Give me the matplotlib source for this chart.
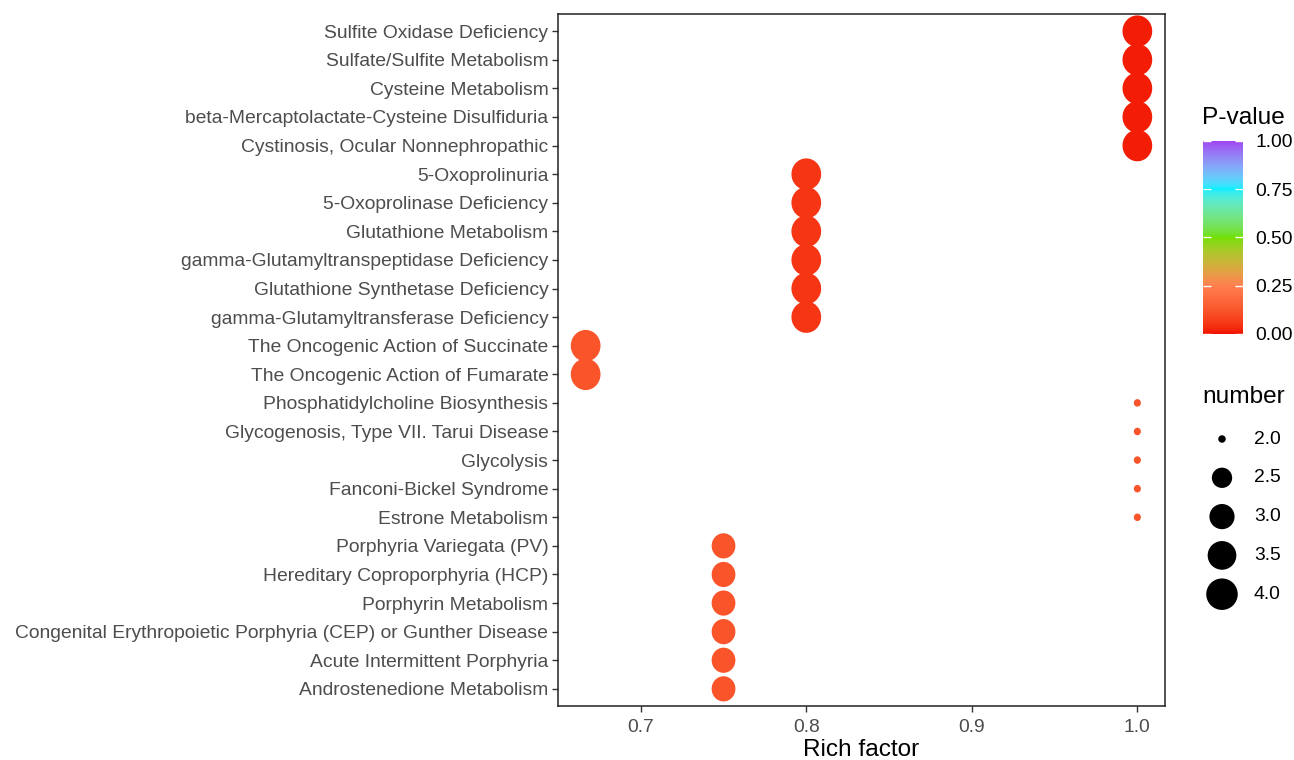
import numpy as np
import matplotlib
matplotlib.use("Agg")
import matplotlib.pyplot as plt
from matplotlib.colors import ListedColormap, to_rgb
from matplotlib.path import Path

plt.rcParams["font.family"] = ["Liberation Sans", "DejaVu Sans"]

# ---- data -------------------------------------------------------------
pathways = [
    "Sulfite Oxidase Deficiency",
    "Sulfate/Sulfite Metabolism",
    "Cysteine Metabolism",
    "beta-Mercaptolactate-Cysteine Disulfiduria",
    "Cystinosis, Ocular Nonnephropathic",
    "5-Oxoprolinuria",
    "5-Oxoprolinase Deficiency",
    "Glutathione Metabolism",
    "gamma-Glutamyltranspeptidase Deficiency",
    "Glutathione Synthetase Deficiency",
    "gamma-Glutamyltransferase Deficiency",
    "The Oncogenic Action of Succinate",
    "The Oncogenic Action of Fumarate",
    "Phosphatidylcholine Biosynthesis",
    "Glycogenosis, Type VII. Tarui Disease",
    "Glycolysis",
    "Fanconi-Bickel Syndrome",
    "Estrone Metabolism",
    "Porphyria Variegata (PV)",
    "Hereditary Coproporphyria (HCP)",
    "Porphyrin Metabolism",
    "Congenital Erythropoietic Porphyria (CEP) or Gunther Disease",
    "Acute Intermittent Porphyria",
    "Androstenedione Metabolism",
]
rich_factor = [1.0, 1.0, 1.0, 1.0, 1.0,
               0.8, 0.8, 0.8, 0.8, 0.8, 0.8,
               0.6667, 0.6667,
               1.0, 1.0, 1.0, 1.0, 1.0,
               0.75, 0.75, 0.75, 0.75, 0.75, 0.75]
number = [4, 4, 4, 4, 4,
          4, 4, 4, 4, 4, 4,
          4, 4,
          2, 2, 2, 2, 2,
          3, 3, 3, 3, 3, 3]
p_value = [0.015, 0.015, 0.015, 0.015, 0.015,
           0.05, 0.05, 0.05, 0.05, 0.05, 0.05,
           0.12, 0.12,
           0.12, 0.12, 0.12, 0.12, 0.12,
           0.12, 0.12, 0.12, 0.12, 0.12, 0.12]

x_ticks = [0.7, 0.8, 0.9, 1.0]
p_ticks = [0.0, 0.25, 0.5, 0.75, 1.0]
size_breaks = [2.0, 2.5, 3.0, 3.5, 4.0]
gradient_colours = ["#F21000", "#FF8050", "#72E000", "#00EEFF", "#A040F0"]


# ---- colour scale interpolated in CIE Lab ----------------------------
def _srgb_to_lab(rgb):
    rgb = np.asarray(rgb, float)
    lin = np.where(rgb <= 0.04045, rgb / 12.92, ((rgb + 0.055) / 1.055) ** 2.4)
    m = np.array([[0.4124, 0.3576, 0.1805],
                  [0.2126, 0.7152, 0.0722],
                  [0.0193, 0.1192, 0.9505]])
    xyz = m @ lin / np.array([0.95047, 1.0, 1.08883])
    f = np.where(xyz > 0.008856, np.cbrt(xyz), 7.787 * xyz + 16 / 116)
    return np.array([116 * f[1] - 16, 500 * (f[0] - f[1]), 200 * (f[1] - f[2])])


def _lab_to_srgb(lab):
    L, a, b = lab
    fy = (L + 16) / 116
    fx = fy + a / 500
    fz = fy - b / 200
    f = np.array([fx, fy, fz])
    xyz = np.where(f ** 3 > 0.008856, f ** 3, (f - 16 / 116) / 7.787)
    xyz = xyz * np.array([0.95047, 1.0, 1.08883])
    m = np.array([[3.2406, -1.5372, -0.4986],
                  [-0.9689, 1.8758, 0.0415],
                  [0.0557, -0.2040, 1.0570]])
    lin = m @ xyz
    lin = np.clip(lin, 0, 1)
    rgb = np.where(lin <= 0.0031308, 12.92 * lin, 1.055 * lin ** (1 / 2.4) - 0.055)
    return np.clip(rgb, 0, 1)


labs = [_srgb_to_lab(to_rgb(c)) for c in gradient_colours]
stops = np.linspace(0, 1, len(labs))
samples = []
for t in np.linspace(0, 1, 256):
    i = min(int(np.searchsorted(stops, t, side="right")) - 1, len(labs) - 2)
    u = (t - stops[i]) / (stops[i + 1] - stops[i])
    samples.append(_lab_to_srgb(labs[i] * (1 - u) + labs[i + 1] * u))
cmap = ListedColormap(samples)


# ---- size scale (pixel diameter -> points^2) --------------------------
def diameter_px(n):
    t = (np.sqrt(np.asarray(n, float)) - np.sqrt(2)) / (2 - np.sqrt(2))
    return 7.5 + 24 * np.sqrt(np.clip(t, 0, 1))


def area_pt(n):
    return (diameter_px(n) * 0.72) ** 2


# slightly tall ellipse used for the plotted points
theta = np.linspace(0, 2 * np.pi, 64)
ellipse = Path(np.column_stack([np.cos(theta) / 1.06, np.sin(theta)]), closed=True)

# ---- figure -----------------------------------------------------------
W, H = 1294, 760
fig = plt.figure(figsize=(W / 100, H / 100), dpi=100)


def rect(x0, y0, x1, y1):
    return [x0 / W, 1 - y1 / H, (x1 - x0) / W, (y1 - y0) / H]


TICK_FS = 13.9
TITLE_FS = 17.6

ax = fig.add_axes(rect(558, 14, 1165, 706))
ypos = np.arange(len(pathways))[::-1] + 1
ax.scatter(rich_factor, ypos, s=area_pt(number), c=p_value, cmap=cmap,
           vmin=0, vmax=1, marker=ellipse, linewidths=0, zorder=3)

ax.set_xlim(0.65, 1.0 + 0.0167)
ax.set_ylim(0.4, len(pathways) + 0.6)
ax.set_yticks(ypos)
ax.set_yticklabels(pathways)
ax.set_xticks(x_ticks)
ax.set_xticklabels([f"{v:.1f}" for v in x_ticks])
ax.tick_params(axis="both", colors="#333333", length=4, width=1,
               labelsize=TICK_FS, labelcolor="#4D4D4D", pad=3)
ax.tick_params(axis="x", pad=5)
for sp in ax.spines.values():
    sp.set_color("#222222")
    sp.set_linewidth(1.1)
ax.set_xlabel("Rich factor", fontsize=TITLE_FS, color="black", labelpad=2.5)

# ---- colour bar -------------------------------------------------------
fig.text(1202 / W, 1 - 118 / H, "P-value", fontsize=TITLE_FS, ha="left", va="center")
cax = fig.add_axes(rect(1203, 141, 1243, 334))
grad = np.linspace(0, 1, 256).reshape(-1, 1)
cax.imshow(grad, cmap=cmap, aspect="auto", origin="lower", extent=[0, 1, 0, 1])
cax.set_xlim(0, 1)
cax.set_ylim(0, 1)
for v in p_ticks:
    cax.plot([0, 0.2], [v, v], color="white", lw=1, solid_capstyle="butt")
    cax.plot([0.8, 1], [v, v], color="white", lw=1, solid_capstyle="butt")
cax.set_xticks([])
cax.yaxis.tick_right()
cax.set_yticks(p_ticks)
cax.set_yticklabels([f"{v:.2f}" for v in p_ticks])
cax.tick_params(axis="y", length=0, labelsize=TICK_FS, pad=9, labelcolor="black")
for sp in cax.spines.values():
    sp.set_visible(False)

# ---- size legend ------------------------------------------------------
fig.text(1202 / W, 1 - 397 / H, "number", fontsize=TITLE_FS, ha="left", va="center")
lax = fig.add_axes(rect(1200, 420, 1294, 614))
lax.set_xlim(1200, 1294)
lax.set_ylim(614, 420)
lax.axis("off")
key_y = 439 + 38.8 * np.arange(len(size_breaks))
lax.scatter([1222] * len(size_breaks), key_y, s=area_pt(size_breaks),
            color="black", linewidths=0, clip_on=False)
for yy, v in zip(key_y, size_breaks):
    lax.text(1254, yy, f"{v:.1f}", fontsize=TICK_FS, ha="left", va="center")

fig.savefig("out.png", dpi=100)
